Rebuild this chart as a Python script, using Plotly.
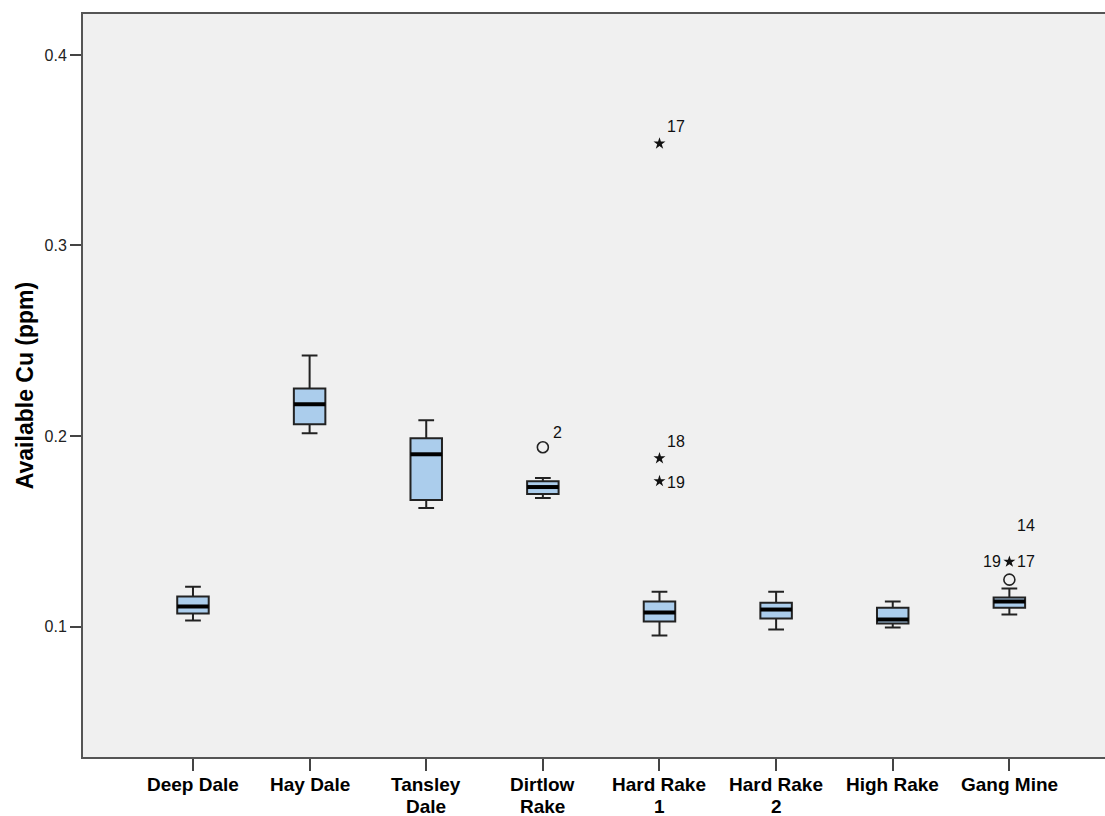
import plotly.graph_objects as go

# Sampling sites and their boxplot statistics (available Cu, ppm)
sites = ["Deep Dale", "Hay Dale", "Tansley<br>Dale", "Dirtlow<br>Rake",
         "Hard Rake<br>1", "Hard Rake<br>2", "High Rake", "Gang Mine"]
lower_whisker = [0.1031, 0.2014, 0.1622, 0.1674, 0.0953, 0.0984, 0.0995, 0.1063]
q1 = [0.1068, 0.2061, 0.1664, 0.1695, 0.1026, 0.1042, 0.1016, 0.1099]
median = [0.1105, 0.2166, 0.1904, 0.1732, 0.1073, 0.1089, 0.1037, 0.1131]
q3 = [0.1157, 0.2249, 0.1988, 0.1763, 0.1131, 0.1125, 0.1099, 0.1152]
upper_whisker = [0.1209, 0.2422, 0.2082, 0.1779, 0.1183, 0.1183, 0.1131, 0.1199]

# Outliers (circle) and extreme values (star), with case numbers
outlier_site = [3, 7]
outlier_value = [0.1941, 0.1246]
outlier_case = ["2", ""]

extreme_site = [4, 4, 4, 7]
extreme_value = [0.3535, 0.1883, 0.1763, 0.1340]
extreme_case = ["17", "18", "19", "19*17|14"]

y_ticks = [0.1, 0.2, 0.3, 0.4]

BOX_W = 0.27
FONT = "Liberation Sans, Arial, sans-serif"

fig = go.Figure()

for i in range(len(sites)):
    fig.add_trace(go.Box(
        x=[i], q1=[q1[i]], median=[median[i]], q3=[q3[i]],
        lowerfence=[lower_whisker[i]], upperfence=[upper_whisker[i]],
        boxpoints=False, width=BOX_W, whiskerwidth=0.5,
        fillcolor="#abcdec", line=dict(color="#222222", width=2),
        showlegend=False, hoverinfo="skip",
    ))
    # heavy median bar
    fig.add_trace(go.Scatter(
        x=[i - BOX_W / 2, i + BOX_W / 2], y=[median[i], median[i]],
        mode="lines", line=dict(color="black", width=4),
        showlegend=False, hoverinfo="skip",
    ))

fig.add_trace(go.Scatter(
    x=outlier_site, y=outlier_value, mode="markers",
    marker=dict(symbol="circle-open", size=11, color="#222222",
                line=dict(width=1.6, color="#222222")),
    showlegend=False, hoverinfo="skip",
))
fig.add_trace(go.Scatter(
    x=extreme_site, y=extreme_value, mode="markers",
    marker=dict(symbol="star", size=9, color="#111111",
                line=dict(width=0)),
    showlegend=False, hoverinfo="skip",
))

label_font = dict(family=FONT, size=16, color="#111111")


def case_label(x, y, text, dx, dy):
    fig.add_annotation(x=x, y=y, xref="x", yref="y", text=text,
                       showarrow=False, font=label_font,
                       xshift=dx, yshift=dy)


for s, v, c in zip(outlier_site, outlier_value, outlier_case):
    if c:
        case_label(s, v, c, 15, 15)

for k, (s, v, c) in enumerate(zip(extreme_site, extreme_value, extreme_case)):
    if "|" in c:
        pair, top = c.split("|")
        left, right = pair.split("*")
        case_label(s, v, left, -17, 0)
        case_label(s, v, right, 17, 0)
        case_label(s, v, top, 17, 36)
    elif k == 2:
        case_label(s, v, c, 17, -1)
    else:
        case_label(s, v, c, 17, 17)

# Category names under the axis, one annotation per text line so the
# two-line names can sit tightly stacked.
for i, name in enumerate(sites):
    for j, line in enumerate(name.split("<br>")):
        fig.add_annotation(
            x=i, y=0, xref="x", yref="paper", yanchor="top",
            text="<b>" + line + "</b>", showarrow=False,
            font=dict(family=FONT, size=19, color="black"),
            borderpad=0, yshift=-16 - 22 * j,
        )

fig.update_layout(
    width=1105, height=816,
    margin=dict(l=83, r=0, t=14, b=59),
    paper_bgcolor="white", plot_bgcolor="#f0f0f0",
    xaxis=dict(
        range=[-0.943, 7.82], tickmode="array",
        tickvals=list(range(len(sites))), showticklabels=False,
        ticks="outside", ticklen=12, tickwidth=1.5, tickcolor="#444444",
        showline=True, linecolor="#555555", linewidth=2, mirror=True,
        showgrid=False, zeroline=False, automargin=False,
    ),
    yaxis=dict(
        range=[0.0315, 0.4215], tickmode="array", tickvals=y_ticks,
        ticktext=[f"{t:.1f}" for t in y_ticks],
        tickfont=dict(family=FONT, size=16, color="#222222"),
        ticks="outside", ticklen=11, tickwidth=1.5, tickcolor="#444444",
        showline=True, linecolor="#555555", linewidth=2, mirror=False,
        showgrid=False, zeroline=False, automargin=False,
        title=dict(text="<b>Available Cu (ppm)</b>",
                   font=dict(family=FONT, size=23, color="black"),
                   standoff=4),
    ),
)

fig.write_html("out.html")
